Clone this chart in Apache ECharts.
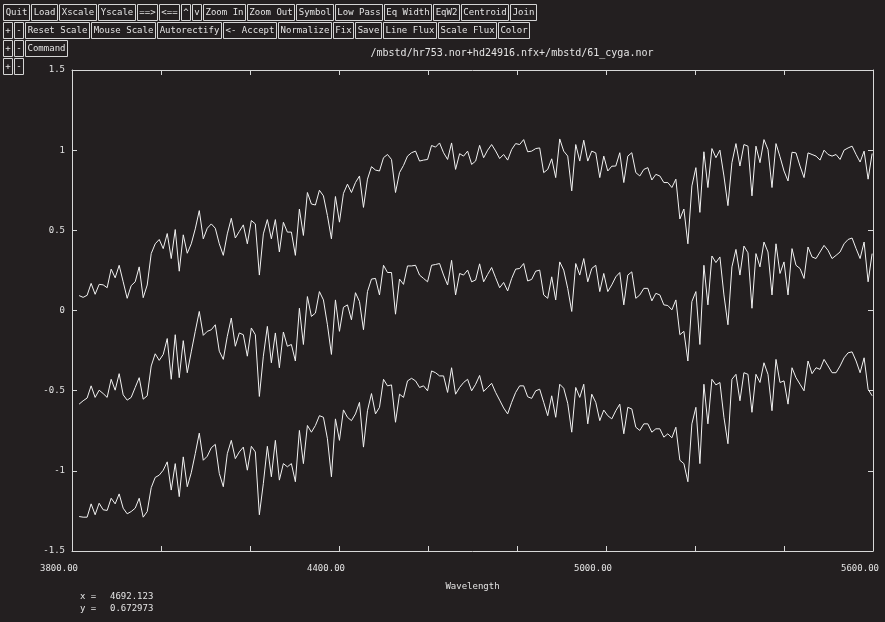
<!DOCTYPE html>
<html>
<head>
<meta charset="utf-8">
<title>Spectra</title>
<script src="https://cdn.jsdelivr.net/npm/echarts@6/dist/echarts.min.js"></script>
<style>
  html, body { margin: 0; padding: 0; background: #231f20; }
  #main { width: 885px; height: 622px; }
</style>
</head>
<body>
<div id="main"></div>
<script>
// wavelength grid of the traced spectra (Angstrom)
var waveStart = 3816;
var waveStep = 9;

// hr753.nor
var fluxHr753 = [
  0.093,0.082,0.095,0.169,0.101,0.163,0.160,0.142,0.258,0.204,
  0.282,0.179,0.076,0.155,0.179,0.272,0.080,0.159,0.355,0.416,
  0.443,0.386,0.480,0.324,0.505,0.245,0.472,0.357,0.416,0.509,
  0.623,0.447,0.513,0.540,0.513,0.416,0.344,0.478,0.575,0.452,
  0.493,0.534,0.416,0.561,0.540,0.221,0.478,0.567,0.447,0.567,
  0.365,0.550,0.489,0.489,0.344,0.633,0.468,0.736,0.664,0.658,
  0.750,0.715,0.592,0.447,0.711,0.551,0.730,0.788,0.736,0.798,
  0.839,0.643,0.819,0.897,0.876,0.870,0.953,0.973,0.942,0.736,
  0.860,0.905,0.963,0.984,0.994,0.932,0.938,0.942,1.029,1.019,
  1.045,0.984,0.942,1.045,0.880,0.978,0.963,0.994,0.911,0.932,
  1.030,0.953,1.000,1.035,0.995,0.948,0.973,0.938,1.004,1.041,
  1.035,1.066,0.990,0.994,1.010,1.014,0.860,0.880,0.946,0.829,
  1.070,0.994,0.963,0.746,1.035,0.932,1.062,0.932,0.994,0.983,
  0.829,0.963,0.870,0.900,0.901,0.984,0.798,0.963,0.984,0.860,
  0.839,0.880,0.891,0.814,0.849,0.839,0.798,0.798,0.767,0.819,
  0.571,0.633,0.416,0.777,0.891,0.612,0.990,0.767,1.010,0.953,
  1.000,0.839,0.654,0.922,1.041,0.901,1.035,1.025,0.715,1.025,
  0.922,1.066,1.004,0.767,1.041,0.959,0.870,0.808,0.987,0.983,
  0.901,0.829,0.983,0.973,0.963,0.938,1.000,0.973,0.963,0.973,
  0.942,1.000,1.014,1.025,0.973,0.926,0.994,0.819,0.979
];

// hd24916.nfx
var fluxHd24916 = [
  -0.584,-0.563,-0.546,-0.470,-0.542,-0.497,-0.518,-0.542,-0.429,-0.497,
  -0.394,-0.526,-0.559,-0.542,-0.480,-0.419,-0.553,-0.532,-0.346,-0.270,
  -0.311,-0.274,-0.175,-0.429,-0.151,-0.419,-0.188,-0.388,-0.258,-0.130,
  -0.006,-0.155,-0.130,-0.120,-0.089,-0.254,-0.305,-0.161,-0.047,-0.223,
  -0.140,-0.151,-0.285,-0.109,-0.151,-0.536,-0.285,-0.099,-0.326,-0.140,
  -0.357,-0.134,-0.223,-0.212,-0.315,0.014,-0.212,0.087,-0.037,-0.016,
  0.118,0.066,-0.089,-0.274,0.066,-0.130,0.020,0.035,-0.058,0.111,
  0.056,-0.120,0.118,0.196,0.200,0.097,0.282,0.237,0.237,-0.023,
  0.196,0.163,0.278,0.278,0.282,0.221,0.200,0.179,0.282,0.287,
  0.293,0.221,0.159,0.313,0.097,0.231,0.221,0.252,0.179,0.190,
  0.291,0.179,0.225,0.268,0.204,0.142,0.175,0.122,0.200,0.258,
  0.262,0.293,0.184,0.194,0.245,0.252,0.097,0.076,0.210,0.066,
  0.303,0.252,0.138,-0.006,0.293,0.221,0.324,0.179,0.262,0.282,
  0.118,0.231,0.118,0.160,0.210,0.237,0.035,0.221,0.241,0.076,
  0.097,0.138,0.138,0.060,0.107,0.097,0.035,0.031,0.004,0.066,
  -0.151,-0.130,-0.315,0.056,0.118,-0.212,0.282,0.035,0.340,0.299,
  0.334,0.097,-0.089,0.272,0.381,0.221,0.402,0.360,0.014,0.355,
  0.272,0.427,0.365,0.097,0.416,0.231,0.303,0.097,0.386,0.282,
  0.262,0.200,0.396,0.334,0.324,0.365,0.406,0.375,0.324,0.344,
  0.365,0.416,0.443,0.452,0.386,0.324,0.427,0.179,0.355
];

// 61_cyga.nor
var flux61Cyga = [
  -1.285,-1.289,-1.289,-1.206,-1.274,-1.202,-1.243,-1.247,-1.171,-1.206,
  -1.144,-1.233,-1.268,-1.254,-1.233,-1.171,-1.289,-1.254,-1.105,-1.041,
  -1.027,-0.996,-0.944,-1.120,-0.955,-1.161,-0.913,-1.099,-1.012,-0.893,
  -0.765,-0.934,-0.909,-0.856,-0.835,-1.016,-1.099,-0.893,-0.810,-0.924,
  -0.882,-0.852,-0.996,-0.847,-0.882,-1.274,-1.078,-0.847,-1.037,-0.810,
  -1.058,-0.955,-0.975,-0.955,-1.068,-0.748,-0.955,-0.717,-0.759,-0.717,
  -0.656,-0.666,-0.800,-1.037,-0.676,-0.810,-0.620,-0.666,-0.687,-0.645,
  -0.573,-0.852,-0.625,-0.518,-0.645,-0.604,-0.429,-0.470,-0.464,-0.697,
  -0.522,-0.542,-0.439,-0.423,-0.439,-0.480,-0.470,-0.501,-0.377,-0.388,
  -0.408,-0.408,-0.511,-0.357,-0.522,-0.480,-0.449,-0.429,-0.501,-0.460,
  -0.405,-0.505,-0.480,-0.454,-0.511,-0.559,-0.608,-0.645,-0.573,-0.511,
  -0.470,-0.470,-0.538,-0.548,-0.501,-0.491,-0.573,-0.656,-0.532,-0.666,
  -0.460,-0.485,-0.579,-0.759,-0.480,-0.542,-0.460,-0.707,-0.522,-0.573,
  -0.687,-0.621,-0.656,-0.676,-0.625,-0.584,-0.769,-0.604,-0.614,-0.728,
  -0.748,-0.707,-0.707,-0.759,-0.738,-0.738,-0.790,-0.769,-0.794,-0.728,
  -0.934,-0.955,-1.068,-0.707,-0.604,-0.955,-0.460,-0.707,-0.429,-0.464,
  -0.449,-0.666,-0.831,-0.429,-0.398,-0.563,-0.388,-0.398,-0.635,-0.398,
  -0.449,-0.326,-0.398,-0.625,-0.305,-0.449,-0.439,-0.584,-0.357,-0.419,
  -0.460,-0.501,-0.315,-0.394,-0.357,-0.367,-0.305,-0.346,-0.388,-0.388,
  -0.346,-0.295,-0.264,-0.258,-0.315,-0.388,-0.295,-0.491,-0.532
];

// x axis ticks / labels
var xMin = 3800, xMax = 5600, xTickStep = 200, xLabelStep = 600;
var yMin = -1.5, yMax = 1.5, yTickStep = 0.5;

// toolbar of the viewer
var toolbarRows = [
  ['Quit', 'Load', 'Xscale', 'Yscale', '==>', '<==', '^', 'v', 'Zoom In', 'Zoom Out',
   'Symbol', 'Low Pass', 'Eq Width', 'EqW2', 'Centroid', 'Join'],
  ['+', '-', 'Reset Scale', 'Mouse Scale', 'Autorectify', '<- Accept', 'Normalize',
   'Fix', 'Save', 'Line Flux', 'Scale Flux', 'Color'],
  ['+', '-', 'Command'],
  ['+', '-']
];
var titleText = '/mbstd/hr753.nor+hd24916.nfx+/mbstd/61_cyga.nor';
var cursorX = '4692.123';
var cursorY = '0.672973';

var FG = '#e4e4e4';
var FONT = '"DejaVu Sans Mono", "Liberation Mono", monospace';

function toPairs(flux) {
  var out = [];
  for (var i = 0; i < flux.length; i++) {
    out.push([waveStart + i * waveStep, flux[i]]);
  }
  return out;
}

function buildToolbar() {
  var ctx = document.createElement('canvas').getContext('2d');
  ctx.font = '9px ' + FONT;
  var els = [];
  toolbarRows.forEach(function (row, r) {
    var x = 3;
    var top = 4 + r * 18;
    row.forEach(function (label) {
      var w = Math.round(ctx.measureText(label).width) + 4;
      els.push({
        type: 'rect',
        shape: { x: x + 0.5, y: top + 0.5, width: w, height: 16 },
        style: { fill: 'none', stroke: '#d4d4d4', lineWidth: 1 },
        silent: true
      });
      els.push({
        type: 'text',
        x: x + 0.5 + w / 2,
        y: top + 9,
        style: {
          text: label, fill: FG, font: '9px ' + FONT,
          align: 'center', verticalAlign: 'middle',
          textAlign: 'center', textVerticalAlign: 'middle'
        },
        silent: true
      });
      x += w + 2;
    });
  });
  return els;
}

function plainText(str, x, y, size, align) {
  return {
    type: 'text', x: x, y: y, silent: true,
    style: {
      text: str, fill: FG, font: size + 'px ' + FONT,
      align: align, verticalAlign: 'middle',
      textAlign: align, textVerticalAlign: 'middle'
    }
  };
}

var myChart = echarts.init(document.getElementById('main'));

var axisColor = '#d8d8d8';
var tickIn = { show: true, inside: true, length: 5, lineStyle: { color: axisColor } };

var option = {
  backgroundColor: '#231f20',
  animation: false,
  grid: { left: 72, right: 12, top: 70, bottom: 71, show: false },
  xAxis: [{
    type: 'value', min: xMin, max: xMax, interval: xTickStep,
    position: 'bottom',
    name: 'Wavelength', nameLocation: 'middle', nameGap: 31,
    nameTextStyle: { color: FG, fontFamily: FONT, fontSize: 9 },
    axisLine: { show: true, onZero: false, lineStyle: { color: axisColor, width: 1 } },
    axisTick: tickIn, splitLine: { show: false },
    axisLabel: {
      color: FG, fontFamily: FONT, fontSize: 9, margin: 13,
      padding: [0, 26, 0, 0],
      formatter: function (v) {
        return (v - xMin) % xLabelStep === 0 ? v.toFixed(2) : '';
      }
    }
  }, {
    type: 'value', min: xMin, max: xMax, interval: xTickStep,
    position: 'top',
    axisLine: { show: true, onZero: false, lineStyle: { color: axisColor, width: 1 } },
    axisTick: tickIn, splitLine: { show: false },
    axisLabel: { show: false }
  }],
  yAxis: [{
    type: 'value', min: yMin, max: yMax, interval: yTickStep,
    position: 'left',
    axisLine: { show: true, onZero: false, lineStyle: { color: axisColor, width: 1 } },
    axisTick: tickIn, splitLine: { show: false },
    axisLabel: { color: FG, fontFamily: FONT, fontSize: 9, margin: 7 }
  }, {
    type: 'value', min: yMin, max: yMax, interval: yTickStep,
    position: 'right',
    axisLine: { show: true, onZero: false, lineStyle: { color: axisColor, width: 1 } },
    axisTick: tickIn, splitLine: { show: false },
    axisLabel: { show: false }
  }],
  series: [fluxHr753, fluxHd24916, flux61Cyga].map(function (f) {
    return {
      type: 'line',
      data: toPairs(f),
      showSymbol: false,
      symbol: 'none',
      lineStyle: { color: '#f2f2f2', width: 1 },
      xAxisIndex: 0, yAxisIndex: 0,
      silent: true
    };
  }),
  graphic: buildToolbar().concat([
    plainText(titleText, 512, 53, 10, 'center'),
    plainText('x =', 80, 597, 9, 'left'),
    plainText(cursorX, 110, 597, 9, 'left'),
    plainText('y =', 80, 609, 9, 'left'),
    plainText(cursorY, 110, 609, 9, 'left')
  ])
};

myChart.setOption(option, true);
</script>
</body>
</html>
